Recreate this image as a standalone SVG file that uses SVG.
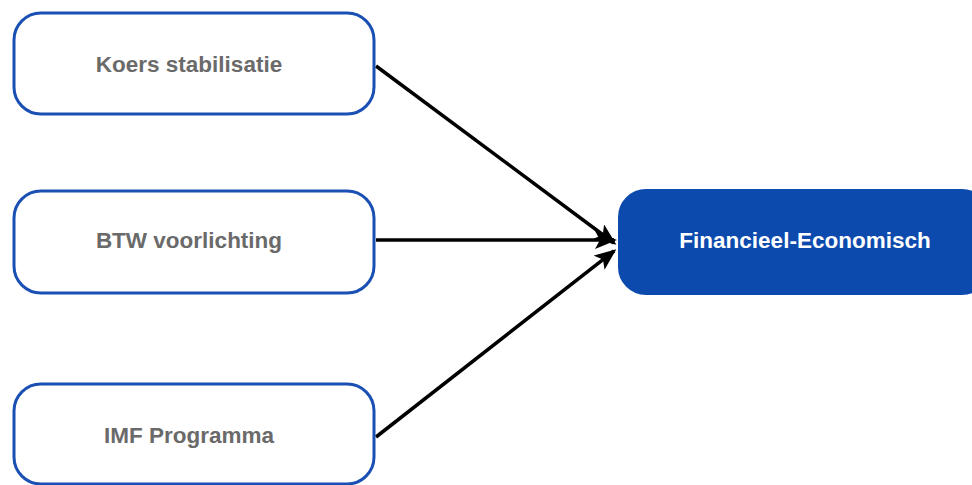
<svg xmlns="http://www.w3.org/2000/svg" width="972" height="485" viewBox="0 0 972 485">
<style>
.src rect{fill:#fff;stroke:#1a4fb3;stroke-width:3}
.src text{font-family:"Liberation Sans",Arial,sans-serif;font-weight:bold;font-size:22.5px;fill:#6a6a6a;text-anchor:middle}
#target rect{fill:#0d4aad;stroke:#0d4aad;stroke-width:2}
#target text{font-family:"Liberation Sans",Arial,sans-serif;font-weight:bold;font-size:22.5px;fill:#fff;text-anchor:middle}
.conn line{stroke:#000;stroke-width:3.5;marker-end:url(#ah)}
</style>
<defs>
<marker id="ah" viewBox="0 0 22 18" refX="19" refY="9" markerWidth="22" markerHeight="18" markerUnits="userSpaceOnUse" orient="auto">
<path d="M0,0 L22,9 L0,18 L5,9 Z" fill="#000"/>
</marker>
</defs>
<g class="conn">
<line x1="376" y1="66" x2="614" y2="243"/>
<line x1="376" y1="240" x2="614" y2="240"/>
<line x1="376" y1="437" x2="614" y2="251"/>
</g>
<g id="koers" class="src"><rect x="14" y="13" width="360" height="101" rx="27"/><text x="189" y="72">Koers stabilisatie</text></g>
<g id="btw" class="src"><rect x="14" y="191" width="360" height="102" rx="27"/><text x="189" y="248">BTW voorlichting</text></g>
<g id="imf" class="src"><rect x="14" y="384" width="360" height="100" rx="27"/><text x="189" y="443">IMF Programma</text></g>
<g id="target"><rect x="619" y="190" width="370" height="104" rx="27"/><text x="805" y="248">Financieel-Economisch</text></g>
</svg>
